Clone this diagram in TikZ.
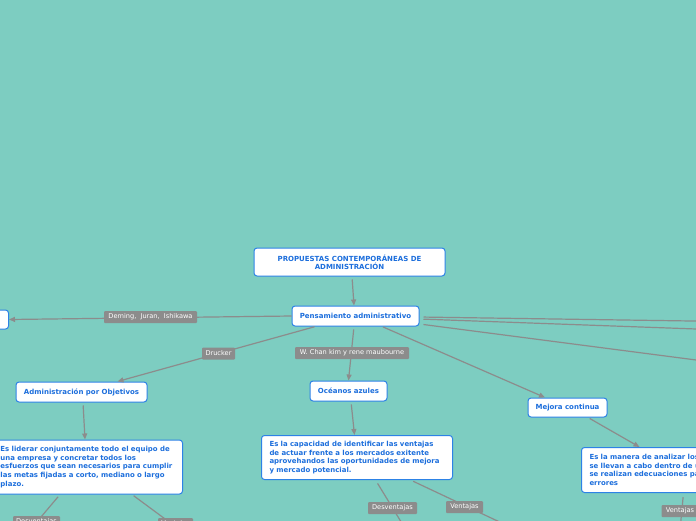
\documentclass[tikz,border=0pt]{standalone}
\usepackage{fontspec}
\setmainfont{DejaVu Sans}
\usetikzlibrary{arrows.meta,calc}
\definecolor{bg}{RGB}{125,205,193}
\definecolor{txtblue}{RGB}{28,110,220}
\definecolor{bordblue}{RGB}{45,130,230}
\definecolor{lgray}{RGB}{140,140,140}
\tikzset{
 topic/.style={draw=bordblue, line width=1pt, fill=white, rounded corners=3pt, text=txtblue,
   font=\fontsize{7}{8.4}\selectfont\bfseries, align=center, inner sep=0pt},
 desc/.style={topic, align=left, font=\fontsize{6.95}{8.7}\selectfont\bfseries, inner ysep=4pt},
 lab/.style={fill=lgray, text=white, font=\fontsize{6.6}{7}\selectfont, inner sep=0pt,
   rounded corners=1pt, minimum height=12pt},
 conn/.style={draw=lgray, line width=1.2pt},
 arr/.style={conn, -{Triangle[length=6pt,width=5pt]}},
}
\begin{document}
\begin{tikzpicture}[x=1pt,y=-1pt]
\useasboundingbox (0,0) rectangle (696,520);
\clip (0,0) rectangle (696,520);
\fill[bg] (-10,-10) rectangle (706,530);

% topic nodes
\node[topic, minimum width=191pt, minimum height=28pt] (root) at (349.5,262)
  {PROPUESTAS CONTEMPORÁNEAS DE\\ADMINISTRACIÓN};
\node[topic, minimum width=127pt, minimum height=20pt] (pens) at (355.5,316)
  {Pensamiento administrativo};
\node[topic, minimum width=70pt, minimum height=19pt, anchor=east] (left) at (9,319.5)
  {Calidad total};
\node[topic, minimum width=131pt, minimum height=20pt] (apo) at (81.5,392)
  {Administración por Objetivos};
\node[desc, text width=176pt, inner xsep=6pt, minimum height=54pt, anchor=north west] (apodesc) at (-6,439.5)
  {Es liderar conjuntamente todo el equipo de\\una empresa y concretar todos los\\esfuerzos que sean necesarios para cumplir\\las metas fijadas a corto, mediano o largo\\plazo.};
\node[topic, minimum width=77pt, minimum height=20pt] (oa) at (348.5,391)
  {Océanos azules};
\node[desc, text width=175pt, inner xsep=8pt, minimum height=44pt, anchor=north west] (oadesc) at (261,435)
  {Es la capacidad de identificar las ventajas\\de actuar frente a los mercados exitente\\aprovehandos las oportunidades de mejora\\y mercado potencial.};
\node[topic, minimum width=79pt, minimum height=19pt] (mc) at (567.5,407.5)
  {Mejora continua};
\node[desc, text width=180pt, inner xsep=8pt, minimum height=45pt, anchor=north west] (mcdesc) at (581,447)
  {Es la manera de analizar los\\se llevan a cabo dentro de una\\se realizan edecuaciones para\\errores};

% off-canvas ends
\coordinate (r1) at (760,322);
\coordinate (r2) at (760,331.3);
\coordinate (r3) at (760,368.3);
\coordinate (b1) at (30,530);
\coordinate (b2) at (180,530);
\coordinate (b3) at (403,525);
\coordinate (b4) at (506,525);
\coordinate (b5) at (680,530);

% connectors
\draw[arr, shorten <=3pt] ([xshift=2.5pt]root.south) -- ([xshift=-1.5pt]pens.north);
\draw[arr] (pens.west) -- (left.east);
\draw[arr, shorten <=1pt] ([xshift=-40pt]pens.south) -- ([xshift=36pt]apo.north);
\draw[arr, shorten <=3pt] ([xshift=-1.5pt]pens.south) -- (oa.north);
\draw[arr, shorten <=1pt] ([xshift=26.5pt]pens.south) -- ([xshift=-22.5pt]mc.north);
\draw[conn, shorten <=4pt] ([yshift=-1pt]pens.east) -- (r1);
\draw[conn, shorten <=4pt] ([yshift=-3pt]pens.east) -- (r2);
\draw[conn, shorten <=4pt] ([yshift=-8pt]pens.east) -- (r3);
\draw[arr, shorten <=3pt] ([xshift=1.5pt]apo.south) -- ([xshift=-3.5pt]apodesc.north);
\draw[arr, shorten <=3pt] ([xshift=2.5pt]oa.south) -- ([xshift=-2.5pt]oadesc.north);
\draw[arr, shorten <=2pt] ([xshift=20.5pt]mc.south) -- ([xshift=-40pt]mcdesc.north);
\draw[conn, shorten <=3pt] ([xshift=-28.5pt]apodesc.south) -- (b1);
\draw[conn, shorten <=2pt] ([xshift=43.5pt]apodesc.south) -- (b2);
\draw[conn, shorten <=4pt] ([xshift=18.5pt]oadesc.south) -- (b3);
\draw[conn, shorten <=3pt] ([xshift=53.5pt]oadesc.south) -- (b4);
\draw[conn, shorten <=4pt] ([xshift=4pt]mcdesc.south) -- (b5);

% labels
\node[lab, minimum width=93pt] (l1) at (150.5,317) {Deming,\ \ Juran,\ \ Ishikawa};
\node[lab, minimum width=33pt] (l2) at (218.5,353.5) {Drucker};
\node[lab, minimum width=114pt] (l3) at (352,353) {W. Chan kim y rene maubourne};
\node[lab, minimum width=47pt] (l4) at (36.5,522) {Desventajas};
\node[lab, minimum width=35pt] (l5) at (175.5,524) {Ventajas};
\node[lab, minimum width=49pt] (l6) at (392.5,508) {Desventajas};
\node[lab, minimum width=37pt] (l7) at (464.5,507) {Ventajas};
\node[lab, minimum width=37pt] (l8) at (680,511) {Ventajas};
\end{tikzpicture}
\end{document}
